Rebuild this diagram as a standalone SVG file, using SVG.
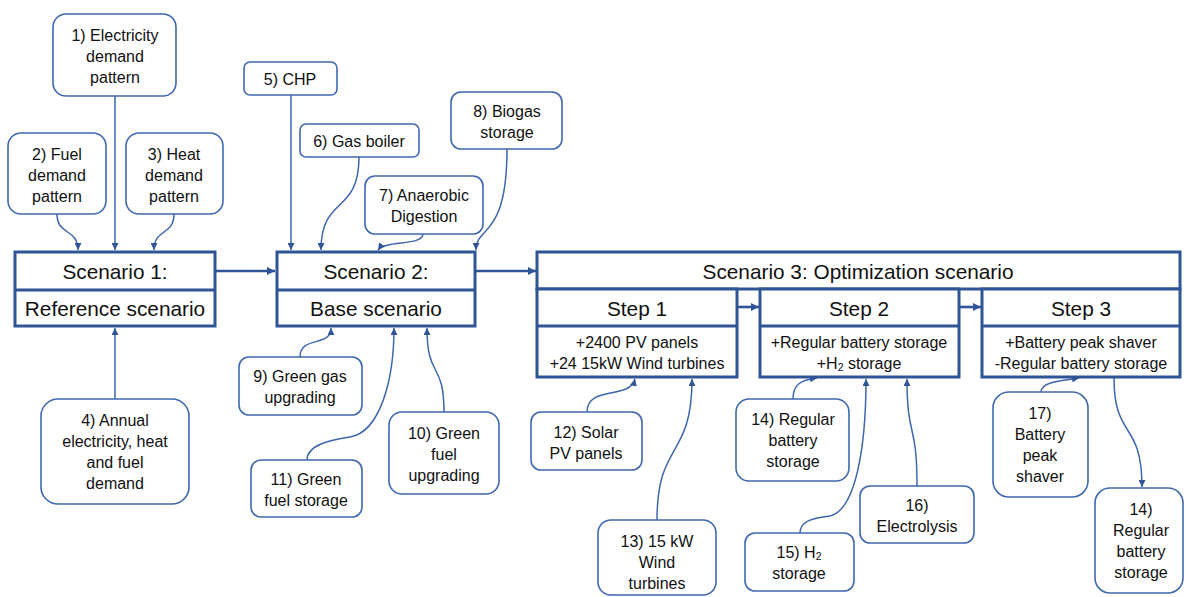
<svg xmlns="http://www.w3.org/2000/svg" width="1186" height="597" viewBox="0 0 1186 597">
  <style>
    text { font-family: "Liberation Sans", Arial, sans-serif; fill: #111; text-anchor: middle; dominant-baseline: central; }
    .small { font-size: 16px; }
    .big { font-size: 20.8px; }
    .node rect { fill: #fff; stroke: #4068b0; stroke-width: 1.6; }
    .scen rect, .scen line { fill: #fff; stroke: #2f5597; stroke-width: 3; }
    .conn { fill: none; stroke: #3f66ae; stroke-width: 1.5; marker-end: url(#ah); }
    .flow { fill: none; stroke: #2f5597; stroke-width: 2.6; marker-end: url(#ahb); }
    .sub { font-size: 10.5px; }
  </style>
  <defs>
    <marker id="ah" viewBox="0 0 10 10" refX="10" refY="5" markerWidth="7" markerHeight="7" markerUnits="userSpaceOnUse" orient="auto">
      <path d="M0,0 L10,5 L0,10 Z" fill="#2f5597"/>
    </marker>
    <marker id="ahb" viewBox="0 0 10 10" refX="10" refY="5" markerWidth="8" markerHeight="8" markerUnits="userSpaceOnUse" orient="auto">
      <path d="M0,0 L10,5 L0,10 Z" fill="#2f5597"/>
    </marker>
  </defs>

  <!-- connectors -->
  <g id="connectors">
    <path class="conn" d="M115,96 V250"/>
    <path class="conn" d="M57,214 C57,236 78,228 78,250"/>
    <path class="conn" d="M174,214 C174,236 154,228 154,250"/>
    <path class="conn" d="M291,95 V250"/>
    <path class="conn" d="M359,157 C359,215 321,195 321,250"/>
    <path class="conn" d="M423,234 C423,246 385,240 378,250"/>
    <path class="conn" d="M507,149 C507,240 476,225 476,250"/>
    <path class="flow" d="M216,271 H275"/>
    <path class="flow" d="M476,271 H536"/>
    <path class="flow" d="M738,307 H759"/>
    <path class="flow" d="M960,307 H981"/>
    <path class="conn" d="M115,399 V328"/>
    <path class="conn" d="M300,357 C300,335 331,348 331,328"/>
    <path class="conn" d="M307,460 C307,445 330,440 350,437 C380,432 394,380 394,328"/>
    <path class="conn" d="M444,412 C444,360 427,380 427,328"/>
    <path class="conn" d="M587,412 C587,385 630,400 635,379"/>
    <path class="conn" d="M657,520 C657,440 692,460 692,379"/>
    <path class="conn" d="M793,399 C793,385 800,380 817,378"/>
    <path class="conn" d="M800,533 C800,520 815,518 830,516 C855,510 866,450 866,379"/>
    <path class="conn" d="M917,486 C917,420 907,440 907,379"/>
    <path class="conn" d="M1041,392 C1041,382 1060,381 1079,378"/>
    <path class="conn" d="M1114,378 C1114,440 1142,420 1142,487"/>
  </g>

  <!-- scenario blocks -->
  <g id="scenario1" class="scen">
    <rect x="15" y="252" width="200" height="74"/>
    <line x1="15" y1="290" x2="215" y2="290"/>
    <text class="big" x="115" y="271">Scenario 1:</text>
    <text class="big" x="115" y="308">Reference scenario</text>
  </g>
  <g id="scenario2" class="scen">
    <rect x="277" y="252" width="198" height="74"/>
    <line x1="277" y1="290" x2="475" y2="290"/>
    <text class="big" x="376" y="271">Scenario 2:</text>
    <text class="big" x="376" y="308">Base scenario</text>
  </g>
  <g id="scenario3" class="scen">
    <rect x="537" y="252" width="643" height="37"/>
    <text class="big" x="858" y="271">Scenario 3: Optimization scenario</text>
  </g>
  <g id="step1" class="scen">
    <rect x="537" y="289" width="200" height="88"/>
    <line x1="537" y1="326" x2="737" y2="326"/>
    <text class="big" x="637" y="308">Step 1</text>
    <text class="small" x="637" y="342">+2400 PV panels</text>
    <text class="small" x="637" y="363">+24 15kW Wind turbines</text>
  </g>
  <g id="step2" class="scen">
    <rect x="760" y="289" width="199" height="88"/>
    <line x1="760" y1="326" x2="959" y2="326"/>
    <text class="big" x="859" y="308">Step 2</text>
    <text class="small" x="859" y="342">+Regular battery storage</text>
    <text class="small" x="859" y="363">+H<tspan class="sub" dy="4">2</tspan><tspan dy="-4"> storage</tspan></text>
  </g>
  <g id="step3" class="scen">
    <rect x="982" y="289" width="198" height="88"/>
    <line x1="982" y1="326" x2="1180" y2="326"/>
    <text class="big" x="1081" y="308">Step 3</text>
    <text class="small" x="1081" y="342">+Battery peak shaver</text>
    <text class="small" x="1081" y="363">-Regular battery storage</text>
  </g>

  <!-- input nodes -->
  <g id="n1" class="node">
    <rect x="53" y="14" width="123" height="82" rx="13"/>
    <text class="small" x="115" y="35">1) Electricity</text>
    <text class="small" x="115" y="56">demand</text>
    <text class="small" x="115" y="77">pattern</text>
  </g>
  <g id="n2" class="node">
    <rect x="8" y="133" width="98" height="81" rx="13"/>
    <text class="small" x="57" y="154">2) Fuel</text>
    <text class="small" x="57" y="175">demand</text>
    <text class="small" x="57" y="196">pattern</text>
  </g>
  <g id="n3" class="node">
    <rect x="126" y="133" width="97" height="81" rx="13"/>
    <text class="small" x="174" y="154">3) Heat</text>
    <text class="small" x="174" y="175">demand</text>
    <text class="small" x="174" y="196">pattern</text>
  </g>
  <g id="n4" class="node">
    <rect x="41" y="399" width="148" height="105" rx="17"/>
    <text class="small" x="115" y="420">4) Annual</text>
    <text class="small" x="115" y="441">electricity, heat</text>
    <text class="small" x="115" y="462">and fuel</text>
    <text class="small" x="115" y="483">demand</text>
  </g>
  <g id="n5" class="node">
    <rect x="244" y="62" width="93" height="33" rx="6"/>
    <text class="small" x="290" y="79">5) CHP</text>
  </g>
  <g id="n6" class="node">
    <rect x="300" y="124" width="119" height="33" rx="6"/>
    <text class="small" x="359" y="141">6) Gas boiler</text>
  </g>
  <g id="n7" class="node">
    <rect x="365" y="176" width="118" height="58" rx="10"/>
    <text class="small" x="424" y="195">7) Anaerobic</text>
    <text class="small" x="424" y="216">Digestion</text>
  </g>
  <g id="n8" class="node">
    <rect x="451" y="92" width="111" height="57" rx="10"/>
    <text class="small" x="507" y="111">8) Biogas</text>
    <text class="small" x="507" y="132">storage</text>
  </g>
  <g id="n9" class="node">
    <rect x="239" y="357" width="123" height="58" rx="10"/>
    <text class="small" x="300" y="376">9) Green gas</text>
    <text class="small" x="300" y="397">upgrading</text>
  </g>
  <g id="n10" class="node">
    <rect x="389" y="412" width="110" height="82" rx="13"/>
    <text class="small" x="444" y="433">10) Green</text>
    <text class="small" x="444" y="454">fuel</text>
    <text class="small" x="444" y="475">upgrading</text>
  </g>
  <g id="n11" class="node">
    <rect x="251" y="460" width="111" height="57" rx="10"/>
    <text class="small" x="306" y="479">11) Green</text>
    <text class="small" x="306" y="500">fuel storage</text>
  </g>
  <g id="n12" class="node">
    <rect x="531" y="412" width="111" height="58" rx="10"/>
    <text class="small" x="586" y="432">12) Solar</text>
    <text class="small" x="586" y="453">PV panels</text>
  </g>
  <g id="n13" class="node">
    <rect x="598" y="520" width="118" height="75" rx="13"/>
    <text class="small" x="657" y="541">13) 15 kW</text>
    <text class="small" x="657" y="562">Wind</text>
    <text class="small" x="657" y="583">turbines</text>
  </g>
  <g id="n14a" class="node">
    <rect x="736" y="399" width="113" height="82" rx="13"/>
    <text class="small" x="793" y="419">14) Regular</text>
    <text class="small" x="793" y="440">battery</text>
    <text class="small" x="793" y="461">storage</text>
  </g>
  <g id="n15" class="node">
    <rect x="745" y="533" width="109" height="58" rx="10"/>
    <text class="small" x="799" y="552">15) H<tspan class="sub" dy="4">2</tspan></text>
    <text class="small" x="799" y="573">storage</text>
  </g>
  <g id="n16" class="node">
    <rect x="860" y="486" width="114" height="57" rx="10"/>
    <text class="small" x="917" y="505">16)</text>
    <text class="small" x="917" y="526">Electrolysis</text>
  </g>
  <g id="n17" class="node">
    <rect x="993" y="392" width="95" height="105" rx="16"/>
    <text class="small" x="1040" y="413">17)</text>
    <text class="small" x="1040" y="434">Battery</text>
    <text class="small" x="1040" y="455">peak</text>
    <text class="small" x="1040" y="476">shaver</text>
  </g>
  <g id="n14b" class="node">
    <rect x="1095" y="488" width="88" height="105" rx="15"/>
    <text class="small" x="1141" y="509">14)</text>
    <text class="small" x="1141" y="530">Regular</text>
    <text class="small" x="1141" y="551">battery</text>
    <text class="small" x="1141" y="572">storage</text>
  </g>
</svg>
